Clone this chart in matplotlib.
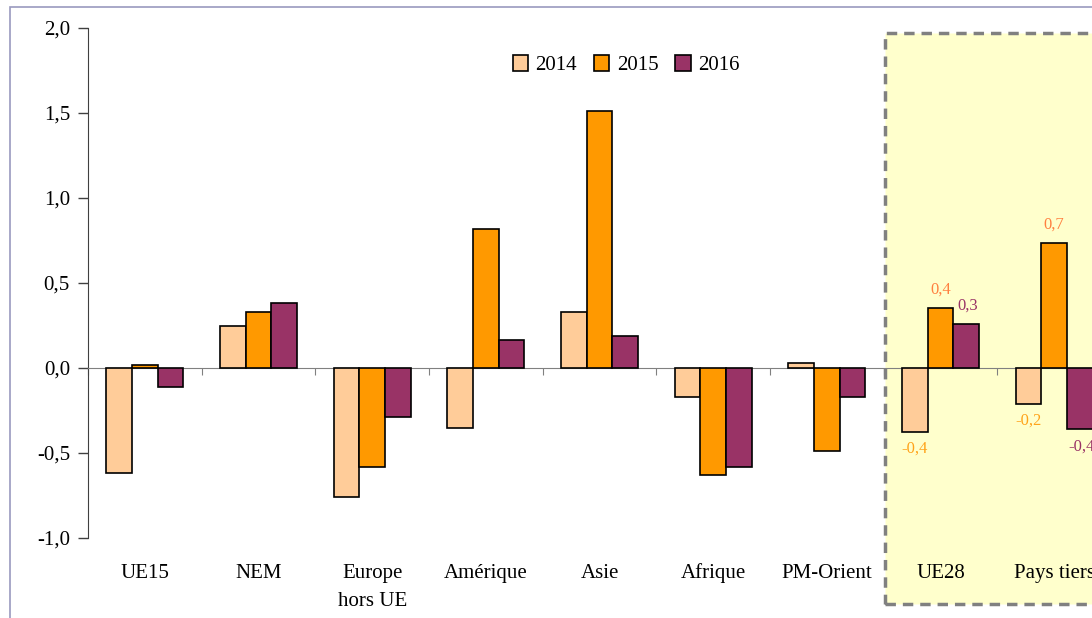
import matplotlib
matplotlib.use("Agg")
import matplotlib.pyplot as plt
from matplotlib.patches import Rectangle
import numpy as np

plt.rcParams['font.family'] = ['Liberation Serif', 'DejaVu Serif']

# data
categories = ["UE15", "NEM", "Europe\nhors UE", "Amérique", "Asie",
              "Afrique", "PM-Orient", "UE28", "Pays tiers"]
years = ["2014", "2015", "2016"]
v2014 = [-0.62, 0.25, -0.76, -0.35, 0.33, -0.17, 0.03, -0.375, -0.21]
v2015 = [0.02, 0.33, -0.58, 0.82, 1.51, -0.63, -0.49, 0.355, 0.735]
v2016 = [-0.11, 0.38, -0.29, 0.165, 0.19, -0.58, -0.17, 0.26, -0.36]
labelled = ["UE28", "Pays tiers"]

bar_colors = ["#FFCC99", "#FF9900", "#993366"]
label_colors = ["#FFA31A", "#FF8040", "#993366"]

W, H = 1092, 618
fig = plt.figure(figsize=(W / 100, H / 100), dpi=100)

# outer frame (cut off on right and bottom)
fig.patches.append(Rectangle((10 / W, -0.1), 1.2, (H - 7) / H + 0.1,
                             transform=fig.transFigure, fill=False,
                             edgecolor="#9A9ABF", linewidth=1.2, zorder=0))
# highlighted zone
fig.patches.append(Rectangle((885 / W, (H - 604) / H), 0.3, (604 - 33) / H,
                             transform=fig.transFigure, facecolor="#FFFFCC",
                             edgecolor="#808080", linewidth=2.5,
                             linestyle=(0, (3, 2)), zorder=0))

ax = fig.add_axes([88 / W, 80 / H, (1111 - 88) / W, 510 / H])
ax.set_zorder(2)
ax.patch.set_alpha(0)

x = np.arange(len(categories))
bw = 0.225
series = [v2014, v2015, v2016]
for i, (vals, yr) in enumerate(zip(series, years)):
    pos = x + (i - 1) * bw
    ax.bar(pos, vals, bw, color=bar_colors[i], edgecolor="black",
           linewidth=1.2, label=yr, zorder=3)
    for j, cat in enumerate(categories):
        if cat in labelled:
            v = vals[j]
            off = 18 if v > 0 else -17
            ax.annotate(f"{v:.1f}".replace(".", ","), (pos[j], v),
                        xytext=(2 if i == 2 else 0, off),
                        textcoords="offset pixels",
                        ha="center", va="center", fontsize=12,
                        color=label_colors[i])

ax.set_xlim(-0.5, len(categories) - 0.5)
ax.set_ylim(-1, 2)
ticks = np.arange(-1, 2.01, 0.5)
ax.set_yticks(ticks)
ax.set_yticklabels([f"{t:.1f}".replace(".", ",") for t in ticks], fontsize=15)
ax.tick_params(axis="y", direction="out", length=7, width=1, pad=6,
               color="#404040")

for s in ["top", "right"]:
    ax.spines[s].set_visible(False)
ax.spines["left"].set_color("#404040")
ax.spines["bottom"].set_position(("data", 0))
ax.spines["bottom"].set_color("#808080")
ax.set_xticks(np.arange(-0.5, len(categories), 1))
ax.set_xticklabels([])
ax.tick_params(axis="x", direction="out", length=5, color="#808080")

# category names, one text per line with aligned baselines
line_y = [-0.0784, -0.1333]
for j, cat in enumerate(categories):
    for k, line in enumerate(cat.split("\n")):
        ax.text(x[j], line_y[k], line, transform=ax.get_xaxis_transform(),
                ha="center", va="baseline", fontsize=15)

ax.legend(loc="upper left", bbox_to_anchor=(410 / 1023, 0.975), ncol=3,
          frameon=False, fontsize=15, handlelength=0.75, handleheight=0.75,
          handletextpad=0.35, columnspacing=0.8, borderpad=0.2)

fig.savefig("out.png", dpi=100)
